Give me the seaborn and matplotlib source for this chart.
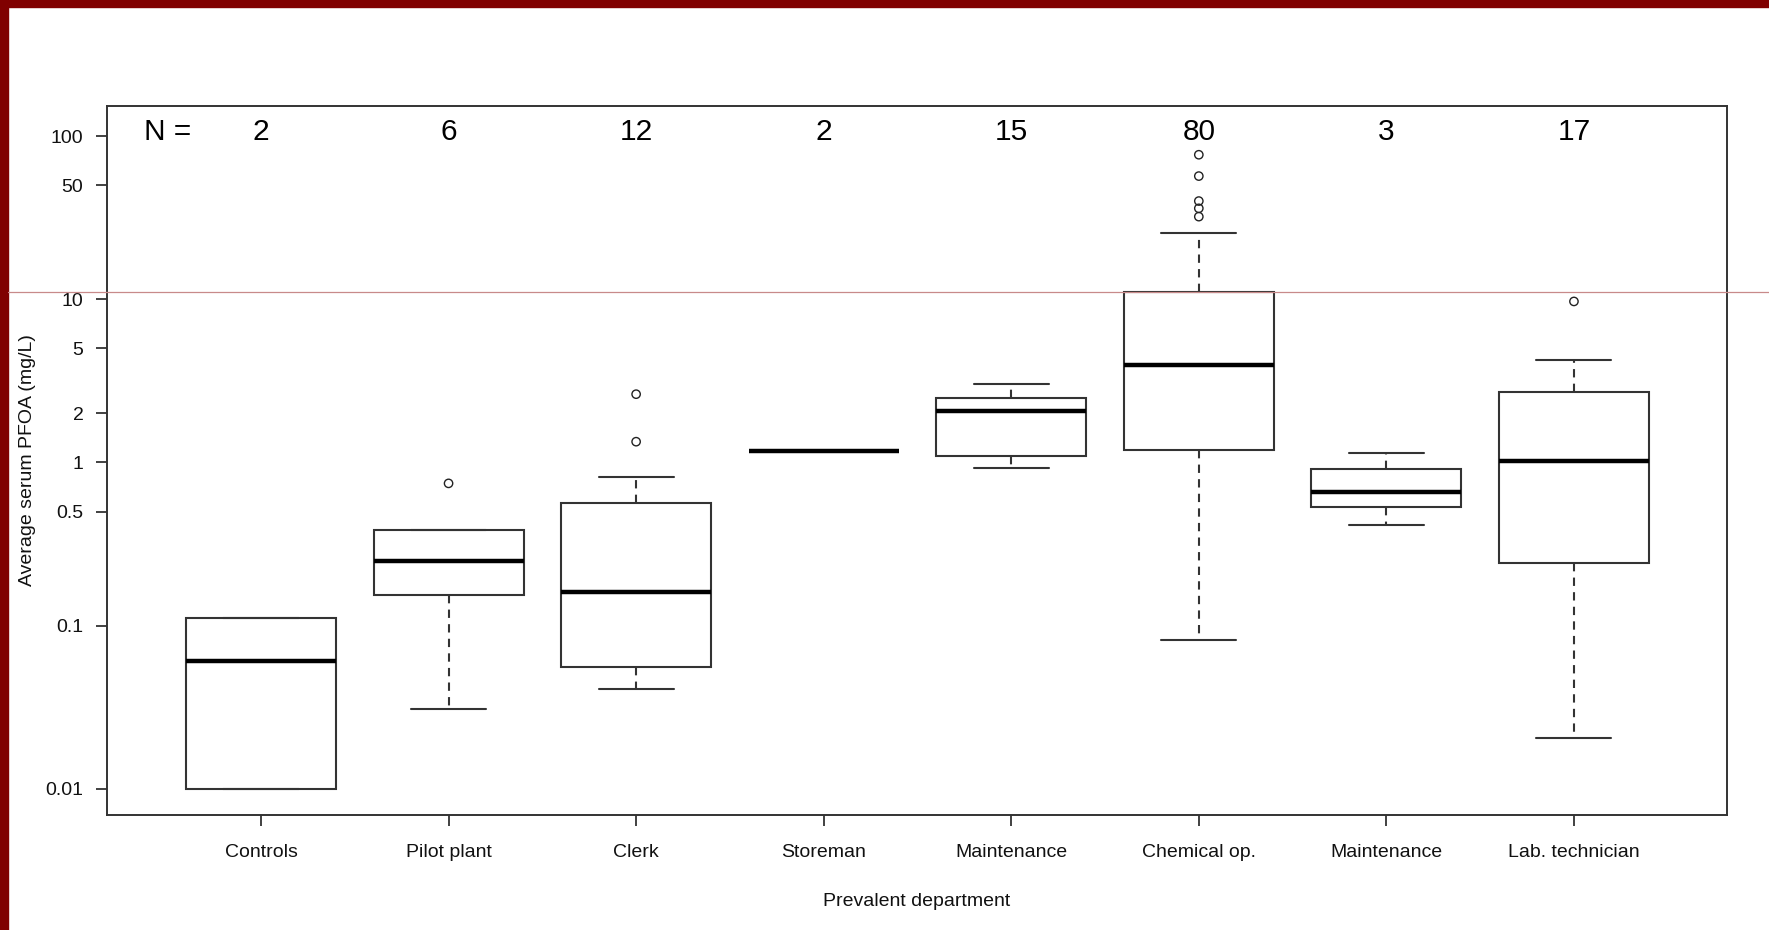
import numpy as np
import pandas as pd
import matplotlib
matplotlib.use("Agg")
import matplotlib.pyplot as plt
from matplotlib.lines import Line2D
from matplotlib.patches import Rectangle
from matplotlib.ticker import NullLocator
import seaborn as sns

# Departments (two separate "Maintenance" groups, so groups are keyed by index)
departments = ["Controls", "Pilot plant", "Clerk", "Storeman",
               "Maintenance", "Chemical op.", "Maintenance", "Lab. technician"]
n_workers = [2, 6, 12, 2, 15, 80, 3, 17]

# Five-number summaries of average serum PFOA (mg/L) per department
whisker_low = [0.010, 0.0308, 0.0409, 1.18, 0.923, 0.0811, 0.414, 0.0204]
lower_quartile = [0.010, 0.154, 0.056, 1.18, 1.09, 1.20, 0.533, 0.243]
median_value = [0.0605, 0.248, 0.160, 1.18, 2.08, 3.94, 0.658, 1.02]
upper_quartile = [0.111, 0.385, 0.564, 1.18, 2.49, 11.1, 0.906, 2.70]
whisker_high = [0.111, 0.385, 0.817, 1.18, 3.03, 25.6, 1.14, 4.22]

# Outlying workers (group index, value)
outlier_group = [1, 2, 2, 5, 5, 5, 5, 5, 7]
outlier_value = [0.744, 2.62, 1.34, 76.9, 56.9, 40.0, 36.1, 32.1, 9.7]

y_ticks = [0.01, 0.1, 0.5, 1, 2, 5, 10, 50, 100]
y_tick_labels = ["0.01", "0.1", "0.5", "1", "2", "5", "10", "50", "100"]

group_keys = [str(i) for i in range(len(departments))]

rows = []
for key, lo, q1, med, q3, hi in zip(group_keys, whisker_low, lower_quartile,
                                    median_value, upper_quartile, whisker_high):
    for v in (lo, q1, med, q3, hi):
        rows.append({"group": key, "pfoa": v})
box_df = pd.DataFrame(rows)
out_df = pd.DataFrame({"group": [group_keys[g] for g in outlier_group],
                       "pfoa": outlier_value})

sns.set_style("ticks")
plt.rcParams["font.family"] = ["Liberation Sans", "DejaVu Sans"]

W, H = 1769, 930
fig = plt.figure(figsize=(W / 100, H / 100), dpi=100)
ax = fig.add_axes([107 / W, 1 - 815 / H, 1620 / W, 709 / H])

edge = "#333333"
sns.boxplot(data=box_df, x="group", y="pfoa", order=group_keys,
            log_scale=(False, True), whis=(0, 100), width=0.8,
            color="white", linecolor=edge, linewidth=1.5, saturation=1,
            medianprops=dict(color="black", linewidth=3.2),
            whiskerprops=dict(linestyle=(0, (4, 3))),
            ax=ax)

sns.stripplot(data=out_df, x="group", y="pfoa", order=group_keys,
              jitter=False, color="black", facecolor="none",
              edgecolor="#222222", linewidth=1.0, size=6.0,
              log_scale=(False, True), ax=ax)

ax.set_ylim(0.0069, 153)
ax.set_xlim(-0.821, 7.816)
ax.set_yticks(y_ticks)
ax.set_yticklabels(y_tick_labels)
ax.yaxis.set_minor_locator(NullLocator())
ax.set_xticks(range(len(departments)))
ax.set_xticklabels(departments)

for side in ax.spines.values():
    side.set_visible(True)
    side.set_color(edge)
    side.set_linewidth(1.4)

ax.tick_params(axis="both", direction="out", length=8, width=1.3,
               color=edge, labelsize=14, labelcolor="#111111")
ax.tick_params(axis="y", pad=9)
ax.tick_params(axis="x", pad=13)

ax.set_xlabel("Prevalent department", fontsize=14, color="#111111")
ax.xaxis.set_label_coords(0.5, -(901 - 815) / 709)
ax.xaxis.label.set_va("center")
ax.set_ylabel("Average serum PFOA (mg/L)", fontsize=14, color="#111111")
ax.yaxis.set_label_coords(-(107 - 27) / 1620, 0.5)
ax.yaxis.label.set_va("center")

# Group sizes along the top of the panel
n_y = (815 - 132) / 709
trans = ax.get_xaxis_transform()
ax.text(-0.5, n_y, "N =", transform=trans, ha="center", va="center",
        fontsize=21.5, color="black")
for i, n in enumerate(n_workers):
    ax.text(i, n_y, str(n), transform=trans, ha="center", va="center",
            fontsize=21.5, color="black")

# Slide frame: dark red top and left bands, thin rule across the page
fig.add_artist(Rectangle((0, 1 - 7 / H), 1, 7 / H, transform=fig.transFigure,
                         color="#800000", zorder=10))
fig.add_artist(Rectangle((0, 0), 8 / W, 1, transform=fig.transFigure,
                         color="#800000", zorder=10))
fig.add_artist(Line2D([8 / W, 1], [1 - 292 / H, 1 - 292 / H],
                      transform=fig.transFigure, color="#c88a8a",
                      linewidth=0.9, zorder=10))

fig.savefig("out.png", dpi=100, facecolor="white")
